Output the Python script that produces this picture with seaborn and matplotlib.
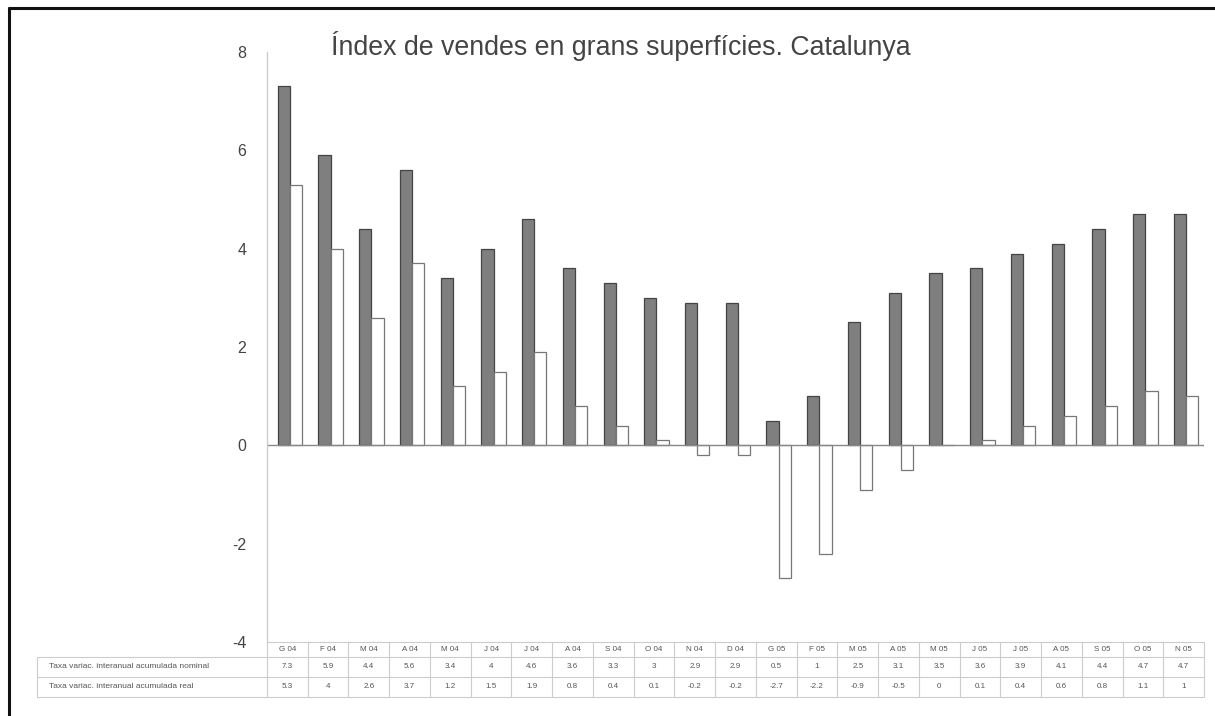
import matplotlib
matplotlib.use("Agg")
import matplotlib.pyplot as plt
import seaborn as sns
import pandas as pd
from matplotlib.lines import Line2D

categories = ["G 04", "F 04", "M 04", "A 04", "M 04", "J 04", "J 04", "A 04", "S 04", "O 04",
              "N 04", "D 04", "G 05", "F 05", "M 05", "A 05", "M 05", "J 05", "J 05", "A 05",
              "S 05", "O 05", "N 05"]
nominal = [7.3, 5.9, 4.4, 5.6, 3.4, 4, 4.6, 3.6, 3.3, 3, 2.9, 2.9, 0.5, 1, 2.5, 3.1, 3.5,
           3.6, 3.9, 4.1, 4.4, 4.7, 4.7]
real = [5.3, 4, 2.6, 3.7, 1.2, 1.5, 1.9, 0.8, 0.4, 0.1, -0.2, -0.2, -2.7, -2.2, -0.9, -0.5,
        0, 0.1, 0.4, 0.6, 0.8, 1.1, 1]
series_names = ["Taxa variac. interanual acumulada nominal",
                "Taxa variac. interanual acumulada real"]
yticks = [-4, -2, 0, 2, 4, 6, 8]
title = "Índex de vendes en grans superfícies. Catalunya"

sns.set_theme(style="white")
plt.rcParams['font.family'] = ['Liberation Sans', 'DejaVu Sans']

n = len(categories)
df = pd.DataFrame({
    "idx": list(range(n)) * 2,
    "value": nominal + real,
    "series": [series_names[0]] * n + [series_names[1]] * n,
})

fig = plt.figure(figsize=(12.15, 7.16), dpi=100)
ax = fig.add_axes([267 / 1215, 74 / 716, 937 / 1215, 590 / 716])

sns.barplot(data=df, x="idx", y="value", hue="series", order=list(range(n)),
            palette=["#7f7f7f", "#ffffff"], width=0.6, gap=0, legend=False, ax=ax,
            edgecolor="#444444", linewidth=0.9)
for patch in ax.patches[n:]:
    patch.set_edgecolor("#777777")

ax.set_xlim(-0.56, n - 0.56)
ax.set_ylim(-4, 8)
ax.set_yticks(yticks)
ax.set_yticklabels([str(t) for t in yticks], fontsize=11.5, color="#444444")
ax.tick_params(axis="y", length=3, color="#cccccc", pad=12)
ax.set_xticks([])
ax.set_xlabel("")
ax.set_ylabel("")
for s in ["top", "right", "bottom"]:
    ax.spines[s].set_visible(False)
ax.spines["left"].set_color("#cccccc")
ax.spines["left"].set_linewidth(1)
ax.axhline(0, color="#888888", linewidth=1, zorder=1)

# data table below the axes
tr = ax.transAxes
ph = 590.0
y_hdr_top = 0.0
y_hdr_bot = -15 / ph
y_r1_bot = -35 / ph
y_r2_bot = -55 / ph
x_lab = (37 - 267) / 937
grid_c = "#cccccc"
def hline(x0, x1, y):
    ax.add_line(Line2D([x0, x1], [y, y], transform=tr, color=grid_c, lw=0.8, clip_on=False))
def vline(x, y0, y1):
    ax.add_line(Line2D([x, x], [y0, y1], transform=tr, color=grid_c, lw=0.8, clip_on=False))

hline(0, 1, y_hdr_top)
hline(x_lab, 1, y_hdr_bot)
hline(x_lab, 1, y_r1_bot)
hline(x_lab, 1, y_r2_bot)
vline(x_lab, y_hdr_bot, y_r2_bot)
for i in range(n + 1):
    vline(i / n, y_hdr_top, y_r2_bot)

tkw = dict(transform=tr, ha="center", va="center", fontsize=5.8, color="#555555", clip_on=False)
for i, cat in enumerate(categories):
    xc = (i + 0.5) / n
    ax.text(xc, (y_hdr_top + y_hdr_bot) / 2, cat, **tkw)
    ax.text(xc, (y_hdr_bot + y_r1_bot) / 2, f"{nominal[i]:g}", **tkw)
    ax.text(xc, (y_r1_bot + y_r2_bot) / 2, f"{real[i]:g}", **tkw)
for j, name in enumerate(series_names):
    yc = [(y_hdr_bot + y_r1_bot) / 2, (y_r1_bot + y_r2_bot) / 2][j]
    ax.text(x_lab + 12 / 937, yc, name, transform=tr, ha="left", va="center",
            fontsize=6, color="#555555", clip_on=False)

fig.text(621 / 1215, 1 - 46 / 716, title, ha="center", va="center", fontsize=19.3,
         color="#444444")

# outer frame (left and top)
fig.add_artist(Line2D([9 / 1215, 9 / 1215], [0, 1 - 8 / 716], transform=fig.transFigure,
                      color="#111111", lw=2.2))
fig.add_artist(Line2D([9 / 1215, 1], [1 - 8 / 716, 1 - 8 / 716], transform=fig.transFigure,
                      color="#111111", lw=2.2))

fig.savefig("out.png", dpi=100)
